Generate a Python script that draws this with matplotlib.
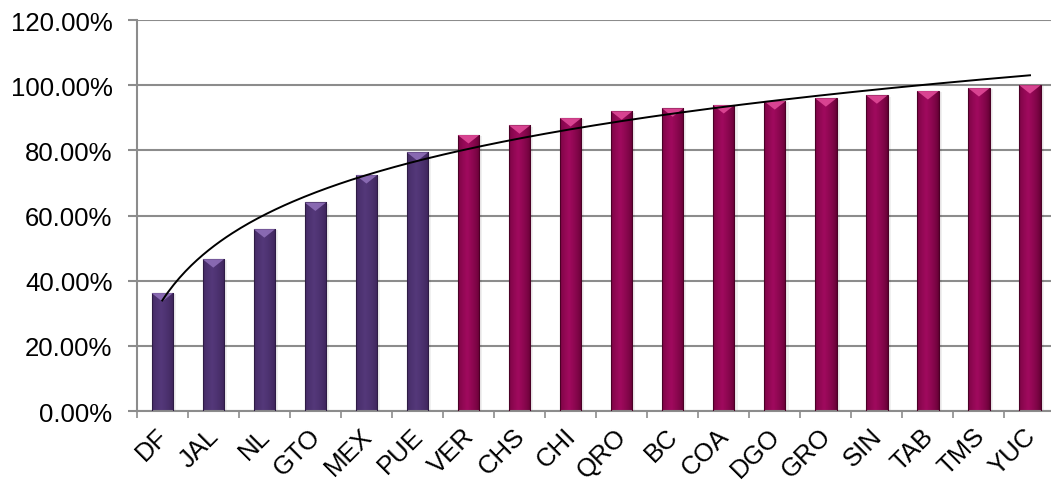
import numpy as np
import matplotlib.pyplot as plt
import matplotlib.transforms as mtransforms
from matplotlib.colors import to_rgb
from matplotlib.patches import Polygon

plt.rcParams['font.family'] = ['Liberation Sans', 'DejaVu Sans']

states = ['DF', 'JAL', 'NL', 'GTO', 'MEX', 'PUE', 'VER', 'CHS', 'CHI',
          'QRO', 'BC', 'COA', 'DGO', 'GRO', 'SIN', 'TAB', 'TMS', 'YUC']
share = [36.2, 46.6, 55.8, 64.0, 72.4, 79.4, 84.7, 87.7, 89.9,
         92.0, 92.9, 93.9, 95.1, 96.0, 96.9, 98.2, 99.1, 100.0]
n_top = 6  # first group drawn in purple

purple = ('#3a2256', '#54387a', '#8f6fb8')
magenta = ('#5e0030', '#a00a5e', '#e04a98')


def gradient_bar(ax, x, h, w, cols):
    dark, mid, light = [np.array(to_rgb(c)) for c in cols]
    t = np.linspace(0, 1, 60)
    prof = np.clip(1 - np.abs(t - 0.42) / 0.58, 0, 1) ** 0.6
    img = dark[None, :] * (1 - prof[:, None]) + mid[None, :] * prof[:, None]
    img = img[None, :, :]
    # soft shadow
    ax.bar(x + 0.06, h, w, bottom=-0.4, color='#000000', alpha=0.06, zorder=1, linewidth=0)
    b = ax.bar(x, h, w, color='none', linewidth=0.8, edgecolor=dark * 0.8, zorder=3)[0]
    im = ax.imshow(img, extent=(x - w / 2, x + w / 2, 0, h), aspect='auto',
                   origin='lower', zorder=2, interpolation='bilinear')
    im.set_clip_path(b)
    tri = Polygon([(x - w / 2, h), (x + w / 2, h), (x, h - 2.6)],
                  closed=True, color=light, alpha=0.9, zorder=3, linewidth=0)
    ax.add_patch(tri)


fig = plt.figure(figsize=(10.51, 4.85), dpi=100)
ax = fig.add_axes([0.1301, 0.1505, 0.8742, 0.8062])

xs = np.arange(len(states))
w = 0.42
for i, (x, v) in enumerate(zip(xs, share)):
    gradient_bar(ax, x, v, w, purple if i < n_top else magenta)

# logarithmic trend line (Excel style)
lx = np.log(xs + 1)
a, b = np.polyfit(lx, share, 1)
xt = np.linspace(0, len(states) - 1, 300)
ax.plot(xt, a * np.log(xt + 1) + b, color='black', linewidth=1.4, zorder=5)

ax.set_xlim(-0.5, len(states) - 0.5)
ax.set_ylim(0, 120)
ax.set_yticks(np.arange(0, 121, 20))
ax.set_yticklabels(['%.2f%%' % v for v in np.arange(0, 121, 20)])
ax.yaxis.grid(True, color='#8c8c8c', linewidth=1.5, zorder=0)
ax.set_axisbelow(True)

ax.set_xticks(xs)
ax.set_xticklabels(states, rotation=45, ha='right', rotation_mode='anchor')
ax.set_xticks(np.arange(-0.5, len(states), 1), minor=True)
ax.tick_params(axis='x', which='major', length=0, pad=9, labelsize=18.5)
ax.tick_params(axis='x', which='minor', length=5, color='#8c8c8c', width=1.2)
ax.tick_params(axis='y', length=6.5, color='#8c8c8c', width=1.5, pad=11, labelsize=18.5)

shift = mtransforms.ScaledTranslation(-7 / 100, 0, fig.dpi_scale_trans)
for lab in ax.get_xticklabels():
    lab.set_transform(lab.get_transform() + shift)

for s in ['top', 'right']:
    ax.spines[s].set_visible(False)
for s in ['left', 'bottom']:
    ax.spines[s].set_color('#8c8c8c')
    ax.spines[s].set_linewidth(1.5)

fig.savefig('out.png', dpi=100)
